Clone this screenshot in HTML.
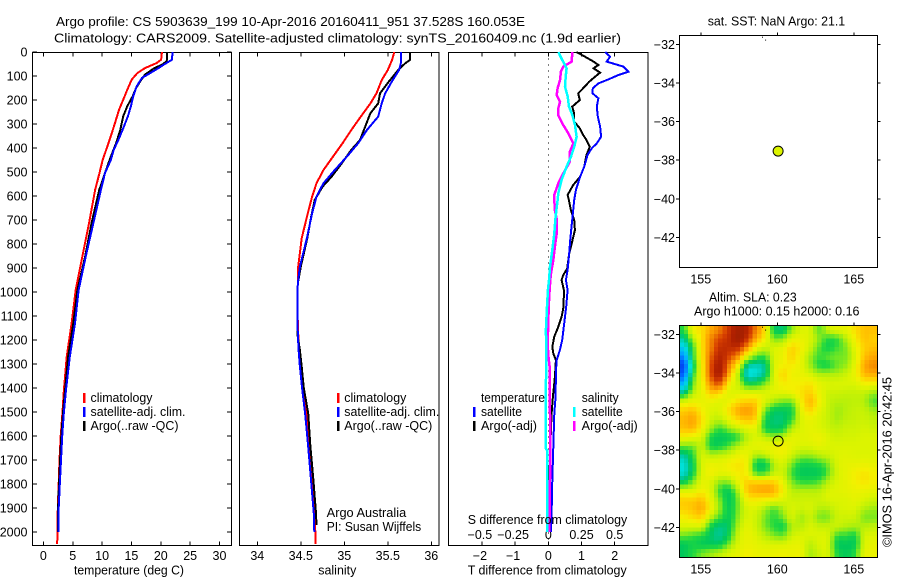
<!DOCTYPE html>
<html lang="en">
<head>
<meta charset="utf-8">
<title>Argo profile chart</title>
<style>
html,body{margin:0;padding:0;background:#fff;width:900px;height:580px;overflow:hidden}
svg{display:block}
text{font-family:"Liberation Sans",sans-serif;font-size:12.5px;fill:#000}
.t13{font-size:13px}
</style>
</head>
<body>
<svg id="chart" xmlns="http://www.w3.org/2000/svg" width="900" height="580" viewBox="0 0 900 580">
  <rect x="0" y="0" width="900" height="580" fill="#fff"/>
  <text class="t13" x="56" y="26" textLength="469" lengthAdjust="spacingAndGlyphs">Argo profile: CS 5903639_199 10-Apr-2016 20160411_951 37.528S 160.053E</text>
  <text class="t13" x="54" y="42.5" textLength="567" lengthAdjust="spacingAndGlyphs">Climatology: CARS2009. Satellite-adjusted climatology: synTS_20160409.nc (1.9d earlier)</text>

  <g id="sla-map"></g>
  <g id="marks"></g>

  <g>
    <rect x="83" y="393" width="2.5" height="10" fill="#f00"/>
    <rect x="83" y="407" width="2.5" height="10" fill="#00f"/>
    <rect x="83" y="421" width="2.5" height="10" fill="#000"/>
    <text x="90.5" y="402" textLength="62" lengthAdjust="spacingAndGlyphs">climatology</text>
    <text x="90.5" y="416" textLength="95" lengthAdjust="spacingAndGlyphs">satellite-adj. clim.</text>
    <text x="90.5" y="430" textLength="88" lengthAdjust="spacingAndGlyphs">Argo(..raw -QC)</text>
  </g>
  <g>
    <rect x="337" y="393" width="2.5" height="10" fill="#f00"/>
    <rect x="337" y="407" width="2.5" height="10" fill="#00f"/>
    <rect x="337" y="421" width="2.5" height="10" fill="#000"/>
    <text x="344.3" y="402" textLength="62" lengthAdjust="spacingAndGlyphs">climatology</text>
    <text x="344.3" y="416" textLength="95" lengthAdjust="spacingAndGlyphs">satellite-adj. clim.</text>
    <text x="344.3" y="430" textLength="88" lengthAdjust="spacingAndGlyphs">Argo(..raw -QC)</text>
    <text x="326.7" y="517" textLength="79.5" lengthAdjust="spacingAndGlyphs">Argo Australia</text>
    <text x="326.7" y="531" textLength="94.5" lengthAdjust="spacingAndGlyphs">PI: Susan Wijffels</text>
  </g>
  <g>
    <rect x="473" y="407" width="2.5" height="10" fill="#00f"/>
    <rect x="473" y="421" width="2.5" height="10" fill="#000"/>
    <rect x="573" y="407" width="2.5" height="10" fill="#0ff"/>
    <rect x="573" y="421" width="2.5" height="10" fill="#f0f"/>
    <text x="481" y="402" textLength="64" lengthAdjust="spacingAndGlyphs">temperature</text>
    <text x="481" y="416" textLength="41" lengthAdjust="spacingAndGlyphs">satellite</text>
    <text x="481" y="430" textLength="56" lengthAdjust="spacingAndGlyphs">Argo(-adj)</text>
    <text x="581.7" y="402" textLength="37" lengthAdjust="spacingAndGlyphs">salinity</text>
    <text x="581.7" y="416" textLength="41" lengthAdjust="spacingAndGlyphs">satellite</text>
    <text x="581.7" y="430" textLength="56" lengthAdjust="spacingAndGlyphs">Argo(-adj)</text>
  </g>

  <text x="74" y="574.5" textLength="110" lengthAdjust="spacingAndGlyphs">temperature (deg C)</text>
  <text x="318.3" y="574.5" textLength="38" lengthAdjust="spacingAndGlyphs">salinity</text>
  <text x="467.7" y="574.5" textLength="159" lengthAdjust="spacingAndGlyphs">T difference from climatology</text>
  <text x="467.7" y="524" textLength="159.5" lengthAdjust="spacingAndGlyphs">S difference from climatology</text>

  <text x="707.7" y="25.5" textLength="137.5" lengthAdjust="spacingAndGlyphs">sat. SST: NaN Argo: 21.1</text>
  <text x="709" y="301.7" textLength="87.7" lengthAdjust="spacingAndGlyphs">Altim. SLA: 0.23</text>
  <text x="694" y="315.7" textLength="165.5" lengthAdjust="spacingAndGlyphs">Argo h1000: 0.15 h2000: 0.16</text>
  <text transform="translate(891.5 547) rotate(-90)" x="0" y="0" textLength="170" lengthAdjust="spacingAndGlyphs">©IMOS 16-Apr-2016 20:42:45</text>
</svg>

<script>
// ---------- Temperature profiles (depth in dbar, temperature in deg C)
var tempClimDepth = [0,32,46,67,88,115,157,199,240,296,338,393,449,504,575,714,853,992,1131,1270,1408,1500,1600,1700,1800,1900,2050];
var tempClimValues = [20.2,20.05,19.3,17.3,16,15.05,14.3,13.6,12.9,12.2,11.65,10.9,10.1,9.55,8.8,7.77,6.63,5.5,4.8,3.97,3.5,3.25,2.95,2.75,2.6,2.45,2.35];
var tempArgoDepth = [0,39,53,67,94,122,150,185,226,268,324,379,435,490,575,714,853,992,1131,1270,1408,1500,1600,1700,1800,1900,2000];
var tempArgoValues = [21.1,21,20.2,18.9,17.3,16.5,15.8,15.2,14.3,13.6,13.1,12.4,11.5,10.7,9.5,8.2,7.1,5.8,5.1,4.2,3.7,3.35,3.05,2.85,2.65,2.5,2.5];
var tempSatDepth = [0,32,53,67,88,108,143,185,226,268,324,365,407,449,504,575,714,853,992,1131,1270,1408,1500,1600,1700,1800,1900,2000];
var tempSatValues = [22,21.9,20.5,19.6,18.2,16.8,15.9,15.3,14.9,14.4,13.5,12.8,12,11.5,10.5,9.8,8.5,7.2,6,5.38,4.5,3.85,3.5,3.2,3,2.8,2.6,2.55];

// ---------- Salinity profiles
var salClimDepth = [0,33,75,117,172,214,269,325,380,436,492,547,603,672,776,894,965,1061,1172,1242,1311,1367,1505,1644,1783,1922,2000,2050];
var salClimValues = [35.575,35.55,35.5,35.43,35.37,35.3,35.19,35.08,34.98,34.87,34.76,34.68,34.63,34.58,34.51,34.47,34.465,34.46,34.47,34.48,34.5,34.52,34.57,34.6,34.63,34.66,34.667,34.667];
var salArgoDepth = [0,33,47,75,124,172,214,255,311,367,408,464,519,561,617,686,776,894,965,1061,1172,1242,1311,1401,1505,1644,1783,1922,1971];
var salArgoValues = [35.755,35.755,35.7,35.62,35.51,35.41,35.39,35.3,35.24,35.18,35.08,34.97,34.855,34.75,34.66,34.62,34.575,34.5,34.465,34.46,34.46,34.49,34.51,34.535,34.585,34.61,34.645,34.675,34.68];
var salSatDepth = [0,47,75,124,172,214,269,325,380,436,492,547,603,672,776,894,965,1061,1172,1242,1311,1401,1505,1644,1783,1922,2000];
var salSatValues = [35.65,35.65,35.63,35.545,35.47,35.43,35.39,35.26,35.16,35.03,34.89,34.76,34.68,34.63,34.57,34.49,34.465,34.46,34.465,34.475,34.49,34.515,34.55,34.585,34.617,34.65,34.655];

// ---------- Differences from climatology
var diffTSatDepth = [0,19,40,50,61,82,96,114,131,151,172,193,228,269,311,353,381,401,429,478,519,575,617,672,728,784,839,909,950,992,1061,1131,1200,1242,1284,1339,1436,1506,1645,1784,1923,2000];
var diffTSatValues = [1.71,1.86,1.76,2,2.26,2.41,2.11,1.81,1.51,1.34,1.33,1.51,1.46,1.49,1.56,1.59,1.46,1.31,1.18,1.08,0.96,0.83,0.78,0.74,0.7,0.66,0.63,0.58,0.53,0.58,0.54,0.48,0.42,0.35,0.25,0.23,0.22,0.18,0.15,0.12,0.1,0.08];
var diffTArgoDepth = [0,19,40,54,68,86,103,124,144,172,200,228,256,290,318,346,367,394,429,478,519,554,596,617,659,700,742,784,839,902,930,950,992,1061,1103,1145,1186,1228,1256,1284,1353,1409,1436,1506,1645,1784,1853,1964];
var diffTArgoValues = [0.85,1.1,1.36,1.51,1.36,1.56,1.41,1.23,1.1,0.9,0.95,0.72,0.78,0.78,0.95,1.05,1.15,1.25,1.15,1.08,0.96,0.75,0.58,0.62,0.68,0.78,0.8,0.73,0.63,0.57,0.45,0.4,0.47,0.46,0.4,0.3,0.18,0.12,0.15,0.23,0.2,0.16,0.14,0.1,0.06,0.03,0.02,0.02];
var diffSArgoDepth = [0,40,61,82,117,151,179,207,235,263,297,339,381,415,457,506,547,596,617,659,700,756,811,867,930,992,1061,1131,1214,1263,1311,1409,1506,1645,1784,1923,2000];
var diffSArgoValues = [0.181,0.176,0.113,0.095,0.088,0.07,0.063,0.088,0.075,0.075,0.105,0.151,0.188,0.163,0.163,0.113,0.075,0.045,0.045,0.05,0.065,0.063,0.05,0.038,0.018,0.01,0.003,0,-0.005,0,0.01,0.01,0.013,0.015,0.013,0.01,0.008];
var diffSSatDepth = [0,33,68,103,144,186,228,262,304,353,394,436,478,533,589,617,686,756,825,895,950,992,1061,1159,1242,1409,1652,1659,1784,1923,2000];
var diffSSatValues = [0.075,0.105,0.138,0.131,0.126,0.146,0.156,0.181,0.201,0.213,0.196,0.171,0.138,0.1,0.075,0.07,0.055,0.045,0.03,0.013,0.005,-0.003,-0.01,-0.018,-0.015,-0.018,-0.018,-0.01,-0.01,-0.01,-0.008];

// ---------- Axis tick values and labels
var depthTicks = [0,100,200,300,400,500,600,700,800,900,1000,1100,1200,1300,1400,1500,1600,1700,1800,1900,2000];
var tempTicks = [0,5,10,15,20,25,30];
var salTicks = [34,34.5,35,35.5,36];
var diffTTicks = [-2,-1,0,1,2];
var diffSTicks = [-0.5,-0.25,0,0.25,0.5];
var diffSLabels = ["−0.5","−0.25","0","0.25","0.5"];
var diffTLabels = ["−2","−1","0","1","2"];
var lonTicks = [155,160,165];
var latTicks = [-32,-34,-36,-38,-40,-42];
var latLabels = ["−32","−34","−36","−38","−40","−42"];

// ---------- Float position and SST colour level
var floatLon = 160.053;
var floatLat = -37.528;
var floatSstLevel = 6;
var coastLon = [159.0, 159.2];
var coastLat = [-31.6, -31.75];

// ---------- SLA field: colour level per coarse grid cell, one array per longitude column, north to south
var slaColumns = [
[4.5,3.5,2.5,1.5,0.5,1,2,3.5,6,7,7.3,7.2,6.5,5,3.5,3,3,4,6,7,7,6.5,6,5,4,4],
[6.5,5.5,4.5,4.5,4,4.5,5,5.5,6.3,7.2,7.6,7.4,6.3,5,4.5,4.2,4.2,5,6,7,7.2,6.8,6,4.7,4.3,4.5],
[6.8,6.8,6.8,6.7,6.5,6.5,6.3,6.2,6.2,6.5,6.8,6.5,6,5.7,6,6,6,6.2,6.5,7.2,7.5,7,6,4.5,4,5],
[7.5,8,8,8.3,8.5,8.5,8,7.2,6.3,6,5.8,5.3,4.3,4.2,5.5,6.3,6.5,6,6,6.2,6.5,5.5,4.2,3.9,4,5.3],
[8,8.5,8.8,9,9.2,9.2,8.5,7,6,6,5.6,4.6,4,4.2,5.7,6.2,6.2,5.2,4.5,5,5.2,4.7,3.7,3.5,4,5.6],
[8.7,8.8,8.8,8.5,8,7.5,6.5,6,6.3,6.8,6.3,5.3,4.1,4.8,5.8,6.5,6.3,5.2,4,3.9,4,4,4,4.2,5,6],
[9.2,9.3,8.8,7.8,6.5,5.5,5.8,6,6.8,7.5,7,5.8,4.5,5.5,6.3,6.7,6.6,6.3,5.5,5,5,5.2,5.5,5.8,6,6.2],
[9,8.8,7.8,6,3.5,2.9,4.2,6,7,7.7,7.2,6.2,5.5,6,6.3,6.5,6.5,7,7.2,6.5,6,6,6.2,6.3,6.3,6.5],
[8,7.5,6.3,4.8,3.2,3,4.3,6,7,7.3,7,6.2,6,6.2,5.5,4.1,4.5,7,7.5,6.6,6,5.8,5.8,6,6.2,6.3],
[6.8,6.5,5.7,4.5,3.6,3.7,5,6,6,5,4.3,4.2,5.6,6.3,5.7,4,4.5,7,7.6,6.5,5.4,5,5,5.5,6,6.3],
[4,5,6,6,6,6,6,6.2,5.4,4,3.8,3.9,5.2,6.3,6.2,5.5,5.6,7,7.5,6.5,4.7,4.5,4.5,5,6,6.3],
[3.8,5.2,6.2,6.3,6.5,7,6.6,6.2,5,4,3.8,4.1,5.6,6.6,6.3,6,5.8,6.2,6.5,6,5.5,5,4.2,4.8,6,6.4],
[5.2,6.2,7,7,6.6,6.3,6.5,6.4,5,4.2,4.5,5.5,6.2,6.2,5.8,5,4.6,5,5.5,5.8,6,6,5.5,5.8,6.2,6.3],
[6,6.3,6.5,6.3,6.2,6.3,6.5,6.7,6.5,6.2,6,6,6.1,6,5.3,4.3,4,4.5,5.5,5.8,5.8,5.2,5.5,6,6.2,6.4],
[6,6,5.8,5.3,5.3,6,6.7,7,7.4,7,6.3,6.2,6.2,6,5.3,4.3,4,4.5,5.5,5.8,6,5.8,6,6,5.5,5.3],
[4.7,5.2,4.8,4.6,4.4,5.5,6.2,6.3,6.5,6.2,6,6,6.4,6.2,5.6,4.5,4,4.7,5.5,5.8,5.5,5,5.7,6,6,5.8],
[5.8,4.4,4.2,4.9,4.3,5.5,6,5.8,5.7,5.7,5.7,5.8,6,6,5.8,5,4.8,5.5,6,6,5.5,5,5.7,6,6,6],
[6.2,4.5,4.7,5,4.9,5.5,6,5.8,5.5,5.3,5.3,5.6,5.8,6,6,6,5.9,6,6.1,6,5.9,5.8,5.8,4.6,4,4.4],
[6.2,5.5,5,5,5.2,5.8,6,5.7,5.5,5.5,5.6,5.8,5.9,6,6.1,6.2,6.2,6.2,6.2,6,6,5.8,5.5,4.6,4,4],
[6.8,6.5,6.2,6,6.2,6.3,6,5.7,5.6,5.7,5.7,5.8,5.9,6,6,6.2,6.5,6.5,6.3,6.2,6,5.8,5.4,4.3,4,4.5],
[7.2,7.2,7,7.2,7.5,7.3,6.5,5.7,5.5,5.7,5.8,5.9,6,6,6,6.3,6.7,6.7,6.3,6,5.5,5,5.5,5.9,6,6.2],
[7.2,7,7.2,7.5,7.9,7.4,6.5,5.3,4.7,5.3,5.6,5.8,6,6,6,6.2,6.5,6.5,6.2,5.8,5.3,5,5.6,6,6.2,6.3]
];
var colourLevels = [0,1,2,3,3.5,4,4.5,5,5.5,6,6.5,7,7.5,8,8.5,9,9.5];
var colourRed =   [0,0,0,0,0,0,32,120,184,220,244,255,255,240,216,176,144];
var colourGreen = [40,96,176,224,200,200,216,232,240,244,240,208,168,128,64,32,32];
var colourBlue =  [224,255,255,216,160,90,64,32,8,0,0,0,0,0,0,0,0];

var NS = "http://www.w3.org/2000/svg";
var marks = document.getElementById("marks");
var mapLayer = document.getElementById("sla-map");

// Layout of each panel
var yTop = 52.5, yBottom = 545.5;
function yDepth(d){ return 52 + 0.24 * d; }
function xTemp(t){ return 43.4 + 5.87 * t; }
function xSal(s){ return 257.3 + 87 * (s - 34); }
function xDiffT(t){ return 548.3 + 33.2 * t; }
function xDiffS(s){ return 548.3 + 132.8 * s; }
function xLon(lon){ return 777.3 + 15.3 * (lon - 160); }
function yLat1(lat){ return 44.4 + 19.3 * (-32 - lat); }
function yLat2(lat){ return 334.4 + 19.3 * (-32 - lat); }

function drawLine(x1, y1, x2, y2, name, sw){
  var el = document.createElementNS(NS, "line");
  el.setAttribute("x1", x1);
  el.setAttribute("y1", y1);
  el.setAttribute("x2", x2);
  el.setAttribute("y2", y2);
  el.setAttribute("stroke", "#000");
  el.setAttribute("stroke-width", sw || 1);
  el.setAttribute("shape-rendering", "crispEdges");
  
  
  marks.appendChild(el);
  return el;
}
function drawLabel(x, y, str, anchor, name){
  var el = document.createElementNS(NS, "text");
  el.setAttribute("x", x);
  el.setAttribute("y", y);
  el.setAttribute("text-anchor", anchor);
  el.textContent = str;
  
  
  marks.appendChild(el);
  return el;
}
function drawFrame(x, y, w, h, name){
  var el = document.createElementNS(NS, "rect");
  el.setAttribute("x", x);
  el.setAttribute("y", y);
  el.setAttribute("width", w);
  el.setAttribute("height", h);
  el.setAttribute("fill", "none");
  el.setAttribute("stroke", "#000");
  el.setAttribute("stroke-width", 1);
  el.setAttribute("shape-rendering", "crispEdges");
  
  
  marks.appendChild(el);
}
function drawProfile(depths, values, xFn, colour, width, name){
  var pts = [];
  for (var i = 0; i < depths.length; i++) {
    pts.push(xFn(values[i]).toFixed(1) + "," + yDepth(depths[i]).toFixed(1));
  }
  var el = document.createElementNS(NS, "polyline");
  el.setAttribute("points", pts.join(" "));
  el.setAttribute("fill", "none");
  el.setAttribute("stroke", colour);
  el.setAttribute("stroke-width", width);
  el.setAttribute("shape-rendering", "crispEdges");
  
  
  marks.appendChild(el);
}

// ---------- SLA heatmap, rendered at the reference's block size with a smooth lookup of the coarse field
function levelColour(v){
  var n = colourLevels.length - 1;
  if (v <= colourLevels[0]) return "rgb(" + colourRed[0] + "," + colourGreen[0] + "," + colourBlue[0] + ")";
  if (v >= colourLevels[n]) return "rgb(" + colourRed[n] + "," + colourGreen[n] + "," + colourBlue[n] + ")";
  for (var i = 0; i < n; i++) {
    if (v <= colourLevels[i + 1]) {
      var f = (v - colourLevels[i]) / (colourLevels[i + 1] - colourLevels[i]);
      var r = Math.round(colourRed[i] + f * (colourRed[i + 1] - colourRed[i]));
      var g = Math.round(colourGreen[i] + f * (colourGreen[i + 1] - colourGreen[i]));
      var b = Math.round(colourBlue[i] + f * (colourBlue[i + 1] - colourBlue[i]));
      return "rgb(" + r + "," + g + "," + b + ")";
    }
  }
}
function cubic(a, b, c, d, t){
  var sharp = b + 0.5 * t * (c - a + t * (2 * a - 5 * b + 4 * c - d + t * (3 * (b - c) + d - a)));
  var t2 = t * t, t3 = t2 * t;
  var soft = ((1 - 3 * t + 3 * t2 - t3) * a + (4 - 6 * t2 + 3 * t3) * b + (1 + 3 * t + 3 * t2 - 3 * t3) * c + t3 * d) / 6;
  return 0.5 * sharp + 0.5 * soft;
}
function slaAt(u, v){
  var nc = slaColumns.length, nr = slaColumns[0].length;
  var i = Math.floor(u), j = Math.floor(v), fu = u - i, fv = v - j, vals = [];
  for (var m = -1; m <= 2; m++) {
    var col = slaColumns[Math.max(0, Math.min(nc - 1, i + m))];
    vals.push(cubic(
      col[Math.max(0, Math.min(nr - 1, j - 1))],
      col[Math.max(0, Math.min(nr - 1, j))],
      col[Math.max(0, Math.min(nr - 1, j + 1))],
      col[Math.max(0, Math.min(nr - 1, j + 2))], fv));
  }
  return cubic(vals[0], vals[1], vals[2], vals[3], fu);
}
var mapX0 = 679.5, mapX1 = 877.5, mapY0 = 325.5, mapY1 = 557.5;
var blockCols = 46, blockRows = 54;
var blockW = (mapX1 - mapX0) / blockCols, blockH = (mapY1 - mapY0) / blockRows;
for (var bc = 0; bc < blockCols; bc++) {
  for (var br = 0; br < blockRows; br++) {
    var uu = (bc + 0.5) / blockCols * slaColumns.length - 0.5;
    var vv = (br + 0.5) / blockRows * slaColumns[0].length - 0.5;
    var cell = document.createElementNS(NS, "rect");
    cell.setAttribute("x", (mapX0 + bc * blockW).toFixed(2));
    cell.setAttribute("y", (mapY0 + br * blockH).toFixed(2));
    cell.setAttribute("width", (blockW + 0.4).toFixed(2));
    cell.setAttribute("height", (blockH + 0.4).toFixed(2));
    cell.setAttribute("fill", levelColour(slaAt(uu, vv)));
    cell.setAttribute("shape-rendering", "crispEdges");
    
    
    mapLayer.appendChild(cell);
  }
}

// ---------- Temperature panel
drawFrame(32.5, yTop, 199, yBottom - yTop, "temperature-plot-frame");
depthTicks.forEach(function(d){
  drawLine(32.5, yDepth(d), 37, yDepth(d), "depth-tick-left");
  drawLine(227, yDepth(d), 231.5, yDepth(d), "depth-tick-right");
  drawLabel(27.5, yDepth(d) + 4.5, String(d), "end", "depth-tick-label");
});
tempTicks.forEach(function(t){
  drawLine(xTemp(t), yTop, xTemp(t), yTop + 4, "temperature-tick-top");
  drawLine(xTemp(t), yBottom - 4, xTemp(t), yBottom, "temperature-tick-bottom");
  drawLabel(xTemp(t), 560, String(t), "middle", "temperature-tick-label");
});
drawProfile(tempClimDepth, tempClimValues, xTemp, "#f00", 2, "temperature-climatology-line");
drawProfile(tempArgoDepth, tempArgoValues, xTemp, "#000", 2, "temperature-argo-line");
drawProfile(tempSatDepth, tempSatValues, xTemp, "#00f", 2, "temperature-satellite-line");

// ---------- Salinity panel
drawFrame(239.5, yTop, 199.5, yBottom - yTop, "salinity-plot-frame");
salTicks.forEach(function(s){
  drawLine(xSal(s), yTop, xSal(s), yTop + 4, "salinity-tick-top");
  drawLine(xSal(s), yBottom - 4, xSal(s), yBottom, "salinity-tick-bottom");
  drawLabel(xSal(s), 560, String(s), "middle", "salinity-tick-label");
});
drawProfile(salClimDepth, salClimValues, xSal, "#f00", 2, "salinity-climatology-line");
drawProfile(salArgoDepth, salArgoValues, xSal, "#000", 2, "salinity-argo-line");
drawProfile(salSatDepth, salSatValues, xSal, "#00f", 2, "salinity-satellite-line");

// ---------- Difference panel
drawFrame(448.5, yTop, 199.5, yBottom - yTop, "difference-plot-frame");
var zeroLine = drawLine(xDiffT(0), yTop, xDiffT(0), yBottom, "zero-difference-line");
zeroLine.setAttribute("stroke-dasharray", "1 5");
diffTTicks.forEach(function(t, i){
  drawLine(xDiffT(t), yBottom - 4, xDiffT(t), yBottom, "t-difference-tick");
  drawLabel(xDiffT(t) - (t < 0 ? 2 : 0), 560, diffTLabels[i], "middle", "t-difference-tick-label");
});
diffSTicks.forEach(function(s, i){
  drawLine(xDiffS(s), yTop, xDiffS(s), yTop + 4, "s-difference-tick");
  drawLabel(xDiffS(s) - (s < 0 ? 2 : 0), 539, diffSLabels[i], "middle", "s-difference-tick-label");
});
drawProfile(diffTArgoDepth, diffTArgoValues, xDiffT, "#000", 2, "t-difference-argo-line");
drawProfile(diffTSatDepth, diffTSatValues, xDiffT, "#00f", 2, "t-difference-satellite-line");
drawProfile(diffSArgoDepth, diffSArgoValues, xDiffS, "#f0f", 2.5, "s-difference-argo-line");
drawProfile(diffSSatDepth, diffSSatValues, xDiffS, "#0ff", 2.5, "s-difference-satellite-line");

// ---------- Map panels
function drawMapPanel(yFn, top, bottom, prefix, labelY){
  drawFrame(679.5, top, 198, bottom - top, prefix + "-map-frame");
  lonTicks.forEach(function(lon){
    drawLine(xLon(lon), top - 3, xLon(lon), top, prefix + "-longitude-tick");
    drawLabel(xLon(lon), labelY, String(lon), "middle", prefix + "-longitude-label");
  });
  latTicks.forEach(function(lat, i){
    drawLine(676, yFn(lat), 679.5, yFn(lat), prefix + "-latitude-tick-left");
    drawLine(877.5, yFn(lat), 880.5, yFn(lat), prefix + "-latitude-tick-right");
    drawLabel(675, yFn(lat) + 4.5, latLabels[i], "end", prefix + "-latitude-label");
  });
  coastLon.forEach(function(lon, i){
    var dot = document.createElementNS(NS, "rect");
    dot.setAttribute("x", xLon(lon).toFixed(1));
    dot.setAttribute("y", yFn(coastLat[i]).toFixed(1));
    dot.setAttribute("width", 1);
    dot.setAttribute("height", 1);
    dot.setAttribute("fill", "#000");
    
    
    marks.appendChild(dot);
  });
}
drawMapPanel(yLat1, 35.5, 267.5, "sst", 283.5);
drawMapPanel(yLat2, 325.5, 557.5, "sla", 573.5);

var sstMarker = document.createElementNS(NS, "circle");
sstMarker.setAttribute("cx", xLon(floatLon));
sstMarker.setAttribute("cy", yLat1(floatLat));
sstMarker.setAttribute("r", 5);
sstMarker.setAttribute("fill", levelColour(floatSstLevel));
sstMarker.setAttribute("stroke", "#000");


marks.appendChild(sstMarker);

var slaMarker = document.createElementNS(NS, "circle");
slaMarker.setAttribute("cx", xLon(floatLon));
slaMarker.setAttribute("cy", yLat2(floatLat));
slaMarker.setAttribute("r", 5);
slaMarker.setAttribute("fill", "none");
slaMarker.setAttribute("stroke", "#000");


marks.appendChild(slaMarker);
</script>
</body>
</html>
